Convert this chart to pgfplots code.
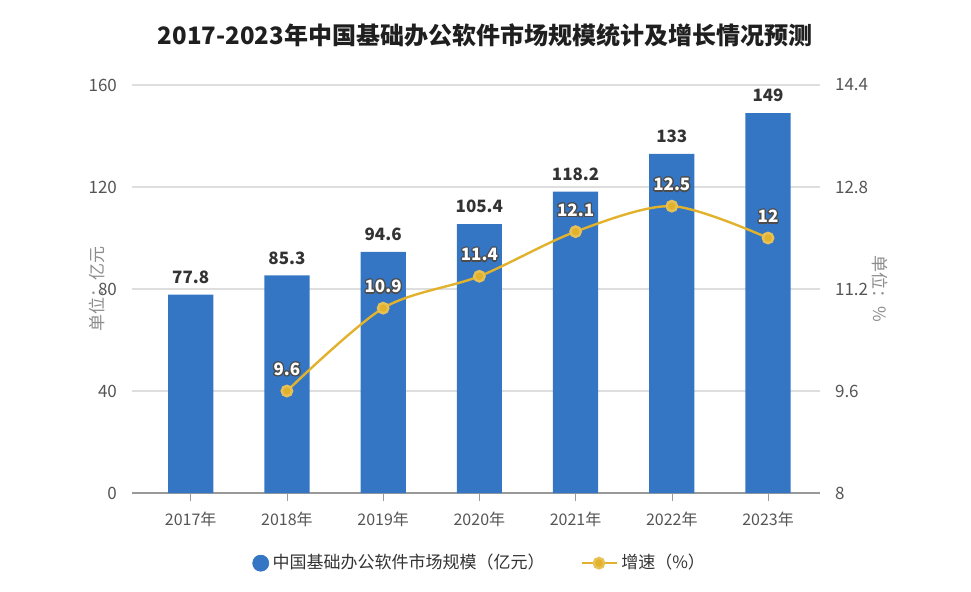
\documentclass[border=0pt]{standalone}
\usepackage{fontspec}
\setmainfont{Noto Sans CJK SC}
\usepackage{pgfplots}
\pgfplotsset{compat=1.18}
\usepackage{contour}
\contourlength{0.6pt}
\definecolor{barblue}{HTML}{3476C4}
\definecolor{gold}{HTML}{E2B22C}
\definecolor{ticktxt}{HTML}{555555}
\definecolor{lbl}{HTML}{333333}
\definecolor{unitgray}{HTML}{8C8C8C}

\pgfplotsset{
  common/.style={
    at={(0,0)}, anchor=south west, scale only axis,
    width=344pt, height=204pt,
    xmin=-0.61, xmax=6.54,
    tick label style={font=\fontsize{8.5}{10}\selectfont, text=ticktxt},
    /pgf/number format/assume math mode=true,
  },
}

\begin{document}
\begin{tikzpicture}
\useasboundingbox (-66pt,-49pt) rectangle (419.5pt,246.5pt);

\begin{axis}[common,
  axis x line*=bottom, axis y line*=left,
  y axis line style={draw=none},
  x axis line style={draw=black!40, line width=0.6pt},
  xtick={0,...,6},
  xticklabels={2017年,2018年,2019年,2020年,2021年,2022年,2023年},
  xtick style={draw=black!40}, tick align=outside,
  major tick length=4pt,
  xticklabel style={yshift=-2pt, font=\fontsize{8}{10}\selectfont},
  ymin=0, ymax=160, ytick={0,40,80,120,160},
  ytick style={draw=none},
  ymajorgrids, grid style={draw=black!13, line width=0.6pt},
  ylabel={单位：亿元},
  ylabel style={at={(axis description cs:-0.051,0.5)}, anchor=center,
    font=\fontsize{8.5}{10}\selectfont, text=unitgray},
]
\addplot[ybar, bar width=0.47, fill=barblue, draw=none,
  nodes near coords,
  every node near coord/.append style={font=\bfseries\fontsize{8.5}{10}\selectfont, text=lbl, yshift=2pt},
] coordinates {(0,77.8) (1,85.3) (2,94.6) (3,105.4) (4,118.2) (5,133) (6,149)};
\end{axis}

\begin{axis}[common,
  axis x line=none, axis y line*=right,
  y axis line style={draw=none}, ytick style={draw=none},
  ymin=8, ymax=14.4, ytick={8,9.6,11.2,12.8,14.4},
  yticklabel style={xshift=4pt},
  ylabel={单位：\%},
  ylabel style={at={(axis description cs:1.087,0.5)}, anchor=center, rotate=180,
    font=\fontsize{8.5}{10}\selectfont, text=unitgray},
  legend style={at={(axis description cs:0.507,-0.172)}, anchor=center,
    draw=none, fill=none, legend columns=2,
    font=\fontsize{8.5}{10}\selectfont, text=lbl,
    /tikz/every even column/.append style={column sep=16pt}},
]
\addlegendimage{only marks, mark=*, mark size=4pt, color=barblue}
\addlegendentry{中国基础办公软件市场规模（亿元）}
\addplot[smooth, color=gold, line width=1.2pt, mark=*, mark size=2.6pt,
  mark options={fill=gold, draw=gold!80!white},
  nodes near coords={\contour{black!70}{\pgfmathprintnumber{\pgfplotspointmeta}}},
  every node near coord/.append style={font=\bfseries\fontsize{8.5}{10}\selectfont, text=white, yshift=3pt},
] coordinates {(1,9.6) (2,10.9) (3,11.4) (4,12.1) (5,12.5) (6,12)};
\addlegendentry{增速（\%）}
\end{axis}

\node[font=\bfseries\fontsize{12}{14}\selectfont, text=black!88] at (176.5pt,229pt)
  {2017-2023年中国基础办公软件市场规模统计及增长情况预测};
\end{tikzpicture}
\end{document}
